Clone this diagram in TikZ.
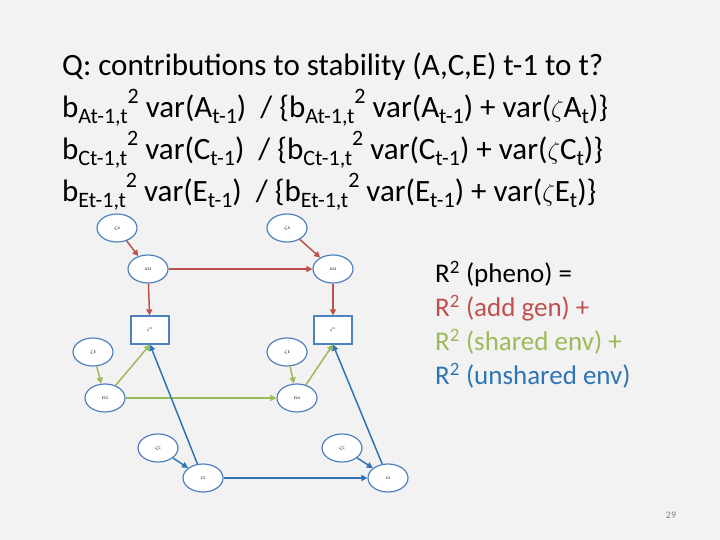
\documentclass[tikz,border=0pt]{standalone}
\usepackage{fontspec}
\setmainfont{Carlito}
\usetikzlibrary{shapes.geometric,arrows.meta}
\definecolor{bg}{HTML}{F2F2F2}
\definecolor{rd}{HTML}{C0504D}
\definecolor{gn}{HTML}{9BBB59}
\definecolor{bl}{HTML}{2E75B6}
\definecolor{bd}{HTML}{4F81BD}
\newcommand{\sbb}[1]{\raisebox{-0.2em}{\fontsize{22}{22}\selectfont #1}}
\newcommand{\spp}[1]{\raisebox{0.45em}{\fontsize{22}{22}\selectfont #1}}
\begin{document}
\begin{tikzpicture}[x=1pt,y=-1pt,
 el/.style={ellipse,draw=bd,line width=1.2pt,fill=white,minimum width=40pt,minimum height=28pt,inner sep=0pt,font=\fontsize{4}{4}\selectfont},
 bx/.style={rectangle,draw=bd,line width=1.2pt,fill=white,minimum width=38pt,minimum height=28pt,inner sep=0pt,font=\fontsize{4}{4}\selectfont},
 ar/.style={-{Triangle[length=6pt,width=6pt]},line width=1.5pt},
 big/.style={anchor=west,font=\fontsize{31}{32}\selectfont,inner sep=0pt}]
\fill[bg] (0,0) rectangle (720,540);
\node[big] (t1) at (62,67) {Q: contributions to stability (A,C,E) t-1 to t?};
\node[big] (t2) at (62,108) {b\sbb{At-1,t}\spp{2} var(A\sbb{t-1})\ \ / \{b\sbb{At-1,t}\spp{2} var(A\sbb{t-1}) + var($\zeta$A\sbb{t})\}};
\node[big] (t3) at (62,150) {b\sbb{Ct-1,t}\spp{2} var(C\sbb{t-1})\ \ / \{b\sbb{Ct-1,t}\spp{2} var(C\sbb{t-1}) + var($\zeta$C\sbb{t})\}};
\node[big] (t4) at (62,192) {b\sbb{Et-1,t}\spp{2} var(E\sbb{t-1})\ \ / \{b\sbb{Et-1,t}\spp{2} var(E\sbb{t-1}) + var($\zeta$E\sbb{t})\}};
\begin{scope}[every node/.style={anchor=west,font=\fontsize{27}{28}\selectfont,inner sep=0pt}]
\node (r1) at (435,274) {R\textsuperscript{2} (pheno) =};
\node[text=rd] (r2) at (435,308) {R\textsuperscript{2} (add gen) +};
\node[text=gn] (r3) at (435,342) {R\textsuperscript{2} (shared env) +};
\node[text=bl] (r4) at (435,376) {R\textsuperscript{2} (unshared env)};
\end{scope}
\node[text=gray,font=\fontsize{10}{12}\selectfont] (pg) at (671,515) {29};
\node[el] (za1) at (117,228) {$\zeta$A};
\node[el] (za2) at (287,228) {$\zeta$A};
\node[el] (a13) at (148,269) {A13};
\node[el] (a14) at (333,269) {A14};
\node[bx] (y13) at (150,330) {y\textsuperscript{13}};
\node[bx] (y14) at (333,330) {y\textsuperscript{14}};
\node[el] (ze1) at (93,352) {$\zeta$E};
\node[el] (ze2) at (287,352) {$\zeta$E};
\node[el] (e13) at (105,398) {E13};
\node[el] (e14) at (297,398) {E14};
\node[el] (zc1) at (158,448) {$\zeta$C};
\node[el] (zc2) at (342,448) {$\zeta$C};
\node[el] (c3) at (203,478) {C3};
\node[el] (c4) at (388,478) {C4};
\draw[ar,rd] (za1) -- (a13);
\draw[ar,rd] (za2) -- (a14);
\draw[ar,rd] (a13) -- (a14);
\draw[ar,rd] (a13) -- (y13);
\draw[ar,rd] (a14) -- (y14);
\draw[ar,gn] (ze1) -- (e13);
\draw[ar,gn] (ze2) -- (e14);
\draw[ar,gn] (e13) -- (e14);
\draw[ar,gn] (e13) -- (y13.south);
\draw[ar,gn] (e14) -- (y14.south);
\draw[ar,bl] (zc1) -- (c3);
\draw[ar,bl] (zc2) -- (c4);
\draw[ar,bl] (c3) -- (c4);
\draw[ar,bl] (c3) -- (y13.south);
\draw[ar,bl] (c4) -- (y14.south);
\end{tikzpicture}
\end{document}
